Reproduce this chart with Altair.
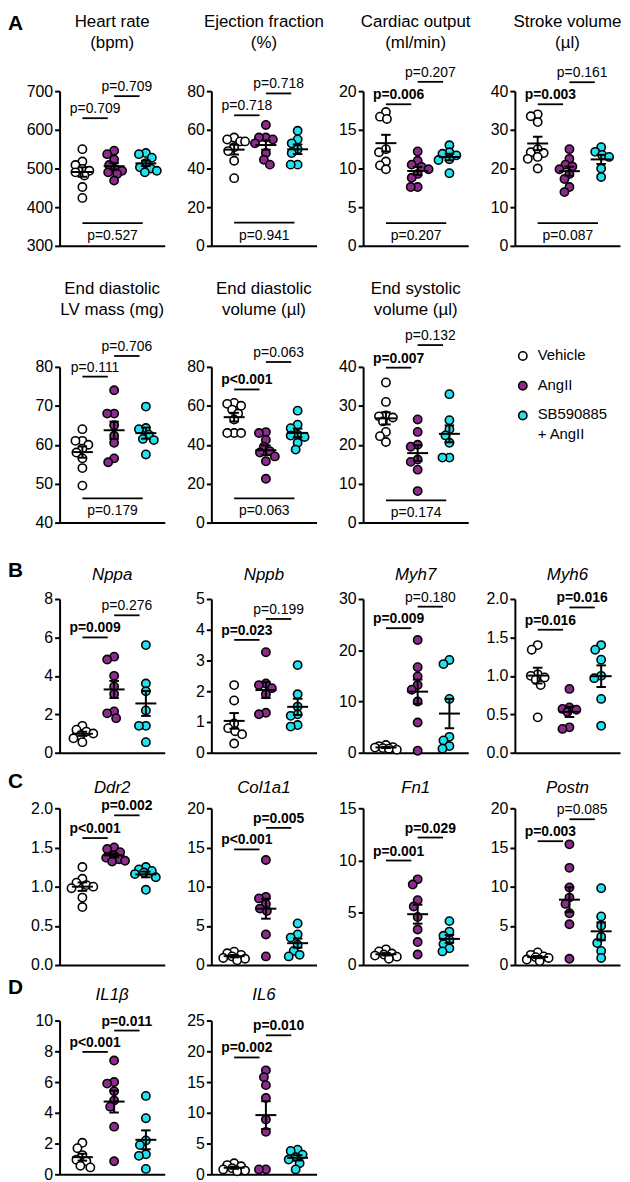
import altair as alt
import pandas as pd

FONT = "Liberation Sans"
GROUPS = ["Vehicle", "AngII", "SB590885 + AngII"]
GROUP_FILLS = ["#ffffff", "#8b2b8c", "#22e2ef"]
LEGEND_LABELS = ["Vehicle", "AngII", "SB590885\n+ AngII"]

# ---------------- Panel A (echo) ----------------
hr_title = ["Heart rate", "(bpm)"]
hr_ticks = [300, 400, 500, 600, 700]
hr_vehicle = [550, 518, 509, 499, 494, 490, 482, 452, 424]
hr_angii = [546, 537, 523, 509, 499, 494, 490, 486, 469]
hr_sb = [540, 537, 528, 514, 503, 500, 494, 490]
hr_p = ["p=0.709", "p=0.709", "p=0.527"]
hr_plevel = [630, 687, 359]

ef_title = ["Ejection fraction", "(%)"]
ef_ticks = [0, 20, 40, 60, 80]
ef_vehicle = [56, 55, 54, 54, 51, 49, 44, 35]
ef_angii = [62.5, 56, 56, 55, 53, 48, 44.5, 42]
ef_sb = [59.5, 55, 53, 50, 48, 42, 42]
ef_p = ["p=0.718", "p=0.718", "p=0.941"]
ef_plevel = [67.5, 78.8, 12.0]

co_title = ["Cardiac output", "(ml/min)"]
co_ticks = [0, 5, 10, 15, 20]
co_vehicle = [17.3, 16.7, 16.4, 12.5, 12.1, 10.9, 10.4, 9.9]
co_angii = [12.2, 11.0, 10.5, 10.2, 9.9, 9.3, 8.8, 7.6, 7.6]
co_sb = [13.0, 12.1, 11.9, 11.7, 11.2, 11.1, 9.4]
co_p = ["p=0.006", "p=0.207", "p=0.207"]
co_plevel = [18.3, 21.2, 2.95]

sv_title = ["Stroke volume", "(µl)"]
sv_ticks = [0, 10, 20, 30, 40]
sv_vehicle = [34, 33.5, 32, 25, 24.2, 24, 23, 22.5, 20]
sv_angii = [25, 22.5, 21, 20.5, 19.8, 18.6, 17.3, 15.2, 13.9]
sv_sb = [25.5, 24.3, 23.5, 23, 20, 17.8]
sv_p = ["p=0.003", "p=0.161", "p=0.087"]
sv_plevel = [36.6, 42.3, 5.9]

lv_title = ["End diastolic", "LV mass (mg)"]
lv_ticks = [40, 50, 60, 70, 80]
lv_vehicle = [64, 61, 61, 60, 59, 58, 56.5, 54, 49.5]
lv_angii = [74, 68, 68, 65, 62.3, 60.5, 56.5, 55.5]
lv_sb = [69.8, 64.3, 64, 62.6, 61.5, 61.2, 57.5]
lv_p = ["p=0.111", "p=0.706", "p=0.179"]
lv_plevel = [77.5, 82.8, 46.2]

edv_title = ["End diastolic", "volume (µl)"]
edv_ticks = [0, 20, 40, 60, 80]
edv_vehicle = [61.5, 61, 60, 58, 56, 53, 46, 46, 46]
edv_angii = [46.5, 46, 42.5, 39, 36.7, 36, 34, 31.5, 22.5]
edv_sb = [57.5, 50.3, 48.5, 45.2, 44.7, 44, 41, 37.5]
edv_p = ["p<0.001", "p=0.063", "p=0.063"]
edv_plevel = [68.4, 82.5, 12.4]

esv_title = ["End systolic", "volume (µl)"]
esv_ticks = [0, 10, 20, 30, 40]
esv_vehicle = [36, 31, 27.5, 27.3, 27, 26, 23.3, 22.2, 20.7]
esv_angii = [26.5, 23.3, 20, 19.5, 16.2, 15.6, 13.6, 8.1]
esv_sb = [33, 26.3, 24, 22.4, 20.5, 16.7, 16.7]
esv_p = ["p=0.007", "p=0.132", "p=0.174"]
esv_plevel = [39.8, 45.6, 5.7]

# ---------------- Panel B ----------------
nppa_ticks = [0, 2, 4, 6, 8]
nppa_vehicle = [1.4, 1.2, 1.1, 1.0, 0.9, 0.75, 0.55]
nppa_angii = [5.0, 4.85, 4.0, 3.45, 3.05, 2.15, 2.05, 1.8]
nppa_sb = [5.6, 3.6, 3.2, 2.2, 1.4, 1.4, 0.55]
nppa_p = ["p=0.009", "p=0.276"]
nppa_plevel = [6.0, 7.15]

nppb_ticks = [0, 1, 2, 3, 4, 5]
nppb_vehicle = [2.2, 1.7, 0.95, 0.8, 0.7, 0.6, 0.3]
nppb_angii = [3.27, 2.25, 2.2, 2.1, 1.9, 1.3, 1.25]
nppb_sb = [2.85, 1.9, 1.5, 1.25, 1.2, 0.9, 0.85]
nppb_p = ["p=0.023", "p=0.199"]
nppb_plevel = [3.67, 4.35]

myh7_ticks = [0, 10, 20, 30]
myh7_vehicle = [1.5, 1.3, 1.1, 1.0, 0.9, 0.8, 0.6]
myh7_angii = [22, 16.7, 14.9, 13.2, 12.3, 10, 5.9, 0.4]
myh7_sb = [18.1, 17.3, 10.5, 3.1, 2.4, 1.3, 0.8]
myh7_p = ["p=0.009", "p=0.180"]
myh7_plevel = [24.3, 28.5]

myh6_ticks = [0, 0.5, 1.0, 1.5, 2.0]
myh6_vehicle = [1.40, 1.34, 1.02, 1.0, 0.98, 0.95, 0.88, 0.46]
myh6_angii = [0.83, 0.59, 0.57, 0.56, 0.53, 0.33, 0.31]
myh6_sb = [1.4, 1.34, 1.21, 1.0, 0.97, 0.7, 0.35]
myh6_p = ["p=0.016", "p=0.016"]
myh6_plevel = [1.60, 1.89]

# ---------------- Panel C ----------------
ddr2_ticks = [0, 0.5, 1.0, 1.5, 2.0]
ddr2_vehicle = [1.25, 1.1, 1.05, 1.02, 1.0, 0.98, 0.86, 0.74]
ddr2_angii = [1.5, 1.48, 1.44, 1.4, 1.37, 1.35, 1.33, 1.32]
ddr2_sb = [1.25, 1.22, 1.2, 1.18, 1.16, 1.12, 0.96]
ddr2_p = ["p<0.001", "p=0.002"]
ddr2_plevel = [1.62, 1.91]

col1a1_ticks = [0, 5, 10, 15, 20]
col1a1_vehicle = [1.7, 1.5, 1.3, 1.1, 0.9, 0.8, 0.6]
col1a1_angii = [13.4, 8.7, 8.5, 7.8, 7.2, 6.9, 3.9, 1.1]
col1a1_sb = [5.3, 3.9, 3.5, 2.6, 1.8, 1.3, 1.1]
col1a1_p = ["p<0.001", "p=0.005"]
col1a1_plevel = [14.75, 17.5]

fn1_ticks = [0, 5, 10, 15]
fn1_vehicle = [1.5, 1.3, 1.1, 1.0, 0.9, 0.8, 0.6]
fn1_angii = [8.2, 7.7, 6.2, 5.6, 4.6, 3.4, 2.2, 1.0]
fn1_sb = [4.2, 3.2, 2.8, 2.4, 2.0, 1.6, 1.3]
fn1_p = ["p=0.001", "p=0.029"]
fn1_plevel = [10.0, 12.2]

postn_ticks = [0, 5, 10, 15, 20]
postn_vehicle = [1.6, 1.3, 1.1, 1.0, 0.9, 0.7, 0.5]
postn_angii = [15.4, 12.4, 9.9, 8.6, 7.8, 6.6, 5.2, 0.8]
postn_sb = [9.8, 6.2, 5.0, 3.6, 2.8, 1.8, 0.9]
postn_p = ["p=0.003", "p=0.085"]
postn_plevel = [15.8, 18.6]

# ---------------- Panel D ----------------
il1b_ticks = [0, 2, 4, 6, 8, 10]
il1b_vehicle = [2.05, 1.7, 1.25, 0.95, 0.85, 0.55, 0.45]
il1b_angii = [7.4, 6.0, 5.9, 5.4, 4.8, 4.4, 3.1, 0.85]
il1b_sb = [5.1, 3.65, 2.2, 1.9, 1.3, 1.2, 0.35]
il1b_p = ["p<0.001", "p=0.011"]
il1b_plevel = [7.96, 9.35]

il6_ticks = [0, 5, 10, 15, 20, 25]
il6_vehicle = [1.8, 1.5, 1.3, 1.0, 0.8, 0.6, 0.5]
il6_angii = [16.9, 15.8, 14.5, 12.4, 8.9, 6.9, 0.8, 0.8]
il6_sb = [4.0, 3.8, 3.2, 2.8, 2.4, 1.8, 0.8]
il6_p = ["p=0.002", "p=0.010"]
il6_plevel = [19.0, 22.6]

# ---------------- layout constants ----------------
W = 106
PX_PER_G = 32.0
X_DOMAIN = [1 - 23 / PX_PER_G, 1 - 23 / PX_PER_G + W / PX_PER_G]
PT_SIZE = 70
LINE_W = 2
FILL_SCALE = alt.Scale(domain=GROUPS, range=GROUP_FILLS)
ONE = pd.DataFrame({"k": [0]})


def swarm(vals, ppu, diam=7.0, maxoff=11):
    order = sorted(range(len(vals)), key=lambda i: -vals[i])
    placed = []
    offs = [0.0] * len(vals)
    cands = [0]
    for k in range(1, maxoff + 1):
        cands += [-k, k]
    for i in order:
        y = vals[i] * ppu
        best, bestd = 0, -1.0
        for c in cands:
            d = min([((c - px) ** 2 + (y - py) ** 2) ** 0.5 for px, py in placed] or [99.0])
            if d >= diam:
                best = c
                break
            if d > bestd:
                best, bestd = c, d
        placed.append((best, y))
        offs[i] = best
    return offs


def is_sig(lbl):
    if "<" in lbl:
        return True
    return float(lbl.split("=")[1]) < 0.05


def panel(title, italic, vals3, ticks, fmt, p_labels, p_levels, height,
          title_top, letter=None, letter_base=None):
    ymin, ymax = ticks[0], ticks[-1]
    ppu = height / (ymax - ymin)
    rows = []
    for gi, vs in enumerate(vals3):
        offs = swarm(vs, ppu)
        for v, o in zip(vs, offs):
            rows.append(dict(group=GROUPS[gi], g=gi + 1, value=v,
                             xp=gi + 1 + o / PX_PER_G))
    pts_df = pd.DataFrame(rows)

    xs = alt.Scale(domain=X_DOMAIN, nice=False, zero=False)
    ys = alt.Scale(domain=[ymin, ymax], nice=False, zero=False)
    xax = alt.Axis(labels=False, ticks=False, title=None, grid=False,
                   domainColor="black", domainWidth=2)
    yax = alt.Axis(values=ticks, format=fmt, title=None, grid=False,
                   domainColor="black", domainWidth=2, tickColor="black",
                   tickWidth=2, tickSize=5, labelFontSize=16,
                   labelColor="black", labelPadding=2, labelFont=FONT)

    def X(f):
        return alt.X(f, type="quantitative", scale=xs, axis=xax)

    def Y(f):
        return alt.Y(f, type="quantitative", scale=ys, axis=yax)

    layers = []
    layers.append(
        alt.Chart(pts_df).mark_circle(size=PT_SIZE, stroke="black",
                                      strokeWidth=1.6, opacity=1).encode(
            x=X("xp"), y=Y("value"),
            fill=alt.Fill("group:N", scale=FILL_SCALE, legend=None))
    )
    stats = alt.Chart(pts_df).transform_aggregate(
        m="mean(value)", s="stderr(value)", groupby=["g"]
    ).transform_calculate(
        lo="datum.m - datum.s", hi="datum.m + datum.s",
        a="datum.g - 0.33", b="datum.g + 0.33",
        c1="datum.g - 0.15", c2="datum.g + 0.15")
    rule = dict(color="black", strokeWidth=LINE_W)
    layers.append(stats.mark_rule(**rule).encode(x=X("a"), x2="b:Q", y=Y("m")))
    layers.append(stats.mark_rule(**rule).encode(x=X("g"), y=Y("lo"), y2="hi:Q"))
    layers.append(stats.mark_rule(**rule).encode(x=X("c1"), x2="c2:Q", y=Y("lo")))
    layers.append(stats.mark_rule(**rule).encode(x=X("c1"), x2="c2:Q", y=Y("hi")))

    spans = [(1.0, 1.8, "top"), (2.0, 2.8, "top"), (1.0, 2.9, "bot")]
    srows = []
    for (x1, x2, kind), lbl, lev in zip(spans, p_labels, p_levels):
        srows.append(dict(x1=x1, x2=x2, xm=(x1 + x2) / 2, y=lev, label=lbl,
                          kind=kind, bold=is_sig(lbl)))
    sig_df = pd.DataFrame(srows)
    layers.append(alt.Chart(sig_df).mark_rule(color="black", strokeWidth=1.8).encode(
        x=X("x1"), x2="x2:Q", y=Y("y")))
    for kind, dy in (("top", -5), ("bot", 17)):
        for bold in (False, True):
            sub = sig_df[(sig_df.kind == kind) & (sig_df.bold == bold)]
            if len(sub) == 0:
                continue
            layers.append(alt.Chart(sub).mark_text(
                fontSize=14, font=FONT, color="black", dy=dy,
                baseline="alphabetic", align="center",
                fontWeight="bold" if bold else "normal").encode(
                x=X("xm"), y=Y("y"), text="label:N"))

    layers.append(alt.Chart(ONE).mark_text(
        fontSize=17, font=FONT, color="black", baseline="top", align="center",
        lineHeight=21.5, fontStyle="italic" if italic else "normal").encode(
        x=alt.value(W / 2), y=alt.value(title_top), text=alt.value(title)))
    if letter:
        layers.append(alt.Chart(ONE).mark_text(
            fontSize=21, font=FONT, fontWeight="bold", color="black",
            baseline="alphabetic", align="left").encode(
            x=alt.value(-52), y=alt.value(letter_base), text=alt.value(letter)))
    return alt.layer(*layers).properties(width=W, height=height)


def spacer(h):
    return alt.Chart(ONE).mark_point(opacity=0).encode(
        x=alt.value(0), y=alt.value(0)).properties(width=W, height=h)


def legend_panel(height):
    leg_df = pd.DataFrame({"label": LEGEND_LABELS, "group": GROUPS, "idx": [0, 1, 2]})
    ly = alt.Y("idx:Q", scale=alt.Scale(domain=[11 / 30.0, 11 / 30.0 + height / 30.0],
                                        reverse=True, nice=False, zero=False),
               axis=None)
    circ = alt.Chart(leg_df).mark_circle(size=PT_SIZE, stroke="black",
                                         strokeWidth=1.6, opacity=1).encode(
        x=alt.value(8), y=ly,
        fill=alt.Fill("group:N", scale=FILL_SCALE, legend=None))
    txt = alt.Chart(leg_df).mark_text(
        align="left", baseline="line-top", dy=-10, lineHeight=20,
        lineBreak="\n", fontSize=15, font=FONT, color="black").encode(
        x=alt.value(23), y=ly, text="label:N")
    return alt.layer(circ, txt).properties(width=W, height=height)


H_A1, H_A2, H_B, H_C, H_D = 156, 157, 155, 158, 155

row_a1 = [
    panel(hr_title, False, [hr_vehicle, hr_angii, hr_sb], hr_ticks, "d", hr_p, hr_plevel, H_A1, -78, "A", -62),
    panel(ef_title, False, [ef_vehicle, ef_angii, ef_sb], ef_ticks, "d", ef_p, ef_plevel, H_A1, -78),
    panel(co_title, False, [co_vehicle, co_angii, co_sb], co_ticks, "d", co_p, co_plevel, H_A1, -78),
    panel(sv_title, False, [sv_vehicle, sv_angii, sv_sb], sv_ticks, "d", sv_p, sv_plevel, H_A1, -78),
]
row_a2 = [
    panel(lv_title, False, [lv_vehicle, lv_angii, lv_sb], lv_ticks, "d", lv_p, lv_plevel, H_A2, -86.4),
    panel(edv_title, False, [edv_vehicle, edv_angii, edv_sb], edv_ticks, "d", edv_p, edv_plevel, H_A2, -86.4),
    panel(esv_title, False, [esv_vehicle, esv_angii, esv_sb], esv_ticks, "d", esv_p, esv_plevel, H_A2, -86.4),
    legend_panel(H_A2),
]
row_b = [
    panel("Nppa", True, [nppa_vehicle, nppa_angii, nppa_sb], nppa_ticks, "d", nppa_p, nppa_plevel, H_B, -32.4, "B", -22),
    panel("Nppb", True, [nppb_vehicle, nppb_angii, nppb_sb], nppb_ticks, "d", nppb_p, nppb_plevel, H_B, -32.4),
    panel("Myh7", True, [myh7_vehicle, myh7_angii, myh7_sb], myh7_ticks, "d", myh7_p, myh7_plevel, H_B, -32.4),
    panel("Myh6", True, [myh6_vehicle, myh6_angii, myh6_sb], myh6_ticks, ".1f", myh6_p, myh6_plevel, H_B, -32.4),
]
row_c = [
    panel("Ddr2", True, [ddr2_vehicle, ddr2_angii, ddr2_sb], ddr2_ticks, ".1f", ddr2_p, ddr2_plevel, H_C, -28.4, "C", -20),
    panel("Col1a1", True, [col1a1_vehicle, col1a1_angii, col1a1_sb], col1a1_ticks, "d", col1a1_p, col1a1_plevel, H_C, -28.4),
    panel("Fn1", True, [fn1_vehicle, fn1_angii, fn1_sb], fn1_ticks, "d", fn1_p, fn1_plevel, H_C, -28.4),
    panel("Postn", True, [postn_vehicle, postn_angii, postn_sb], postn_ticks, "d", postn_p, postn_plevel, H_C, -28.4),
]
row_d = [
    panel("IL1β", True, [il1b_vehicle, il1b_angii, il1b_sb], il1b_ticks, "d", il1b_p, il1b_plevel, H_D, -33.4, "D", -27),
    panel("IL6", True, [il6_vehicle, il6_angii, il6_sb], il6_ticks, "d", il6_p, il6_plevel, H_D, -33.4),
]

cells = (row_a1 + [spacer(122)] * 4 + row_a2 + [spacer(77)] * 4 + row_b
         + [spacer(56)] * 4 + row_c + [spacer(56)] * 4 + row_d)

chart = alt.concat(
    *cells, columns=4, spacing={"row": 0, "column": 47},
    bounds="flush", align="each",
    padding={"left": 0, "top": 0, "right": 0, "bottom": 0},
).configure(
    font=FONT, padding={"left": 0, "top": 0, "right": 0, "bottom": 0},
    view=alt.ViewConfig(stroke=None)
)

chart.save("out.html", embed_options={"renderer": "svg", "actions": False})
